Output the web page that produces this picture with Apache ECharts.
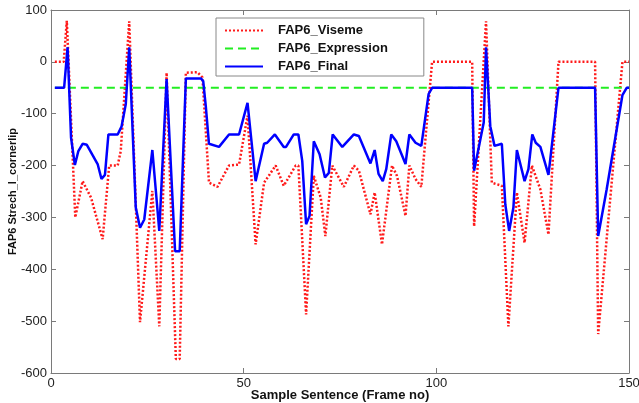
<!DOCTYPE html>
<html><head><meta charset="utf-8">
<script src="https://cdn.jsdelivr.net/npm/echarts@6/dist/echarts.min.js"></script>
<style>html,body{margin:0;padding:0;background:#fff}#c{width:639px;height:403px}</style>
</head><body><div id="c"></div>
<script>
const visemeX = [1,3.3,4.1,6.3,8.2,10.4,11.7,13.4,15.1,17.3,18.1,20.3,23.1,26.3,28.1,30,32.4,33.4,35,38,39.3,41,43.2,46.2,48.8,51,53.1,55.3,58.3,60.4,63.5,64.2,66.2,68.2,70,71.2,73,76,78.6,79.9,82.9,84,85.9,88.5,89.8,92,93,94.6,96.1,98.9,109.3,109.8,112.9,114.4,117,118.7,120.9,122.9,124.8,127,129.1,131.7,141.2,142,148.3,150];
const visemeY = [0,0,79,-300,-230,-262,-297,-342,-200,-200,-172,78,-502,-249,-510,-21,-573,-573,-21,-20,-30,-233,-241,-200,-198,-104,-352,-233,-200,-239,-200,-200,-487,-220,-262,-336,-200,-241,-200,-210,-294,-252,-352,-200,-220,-297,-200,-226,-241,0,0,-317,78,-233,-239,-510,-252,-349,-200,-246,-333,0,0,-525,0,0];
const expressionX = [1,150];
const expressionY = [-50,-50];
const finalX = [1,3.4,4.3,5.2,6.2,7.1,8.2,9.3,12.1,13.1,14,14.9,17.3,18.3,19.4,20.3,22,23.1,24.2,26.3,28.1,30,32.2,33.4,35,38.9,39.5,40.2,41,43.6,46.2,48.8,51,53.1,55.3,56.1,58.1,60.4,61,63,64.2,65.2,66.2,67.1,68.2,69.7,71.1,72.1,73.1,75.6,78.6,79.9,82.9,84,85,86.1,87,88.3,89.6,92,93,94.6,96.1,98,98.9,109.3,109.8,112.3,112.9,114,115.1,117,117.9,118.9,120,120.9,122.9,123.9,124.9,125.8,127,129.1,131,131.7,141.2,142,144.2,148.3,149.4,150];
const finalY = [-50,-50,28,-146,-199,-172,-158,-160,-197,-226,-218,-140,-140,-125,-82,28,-281,-320,-304,-170,-326,-33,-365,-365,-32,-32,-37,-88,-158,-164,-140,-140,-79,-230,-158,-156,-140,-164,-164,-140,-140,-191,-313,-297,-153,-178,-223,-214,-140,-164,-140,-143,-196,-170,-216,-230,-207,-140,-153,-197,-140,-156,-162,-62,-50,-50,-210,-117,28,-124,-162,-158,-275,-326,-281,-170,-230,-207,-140,-156,-164,-218,-95,-50,-50,-336,-246,-64,-50,-50];
const xTicks = [0,50,100,150];
const yTicks = [-600,-500,-400,-300,-200,-100,0,100];

const zip = (xs, ys) => xs.map((x, i) => [x, ys[i]]);
const font = "Liberation Sans, Arial, sans-serif";
const axisCommon = () => ({
  axisLine: {show: true, onZero: false, lineStyle: {color: '#7a7a7a', width: 1}},
  axisTick: {show: true, inside: true, length: 5, lineStyle: {color: '#7a7a7a'}},
  splitLine: {show: false}
});
const chart = echarts.init(document.getElementById('c'));
chart.setOption({
  animation: false,
  backgroundColor: '#fff',
  grid: {left: 51, right: 10, top: 10, bottom: 30, containLabel: false, outerBoundsMode: 'none'},
  legend: {
    orient: 'vertical', left: 216, top: 18,
    padding: [6, 36, 3, 8], itemGap: 5, itemWidth: 38, itemHeight: 14,
    backgroundColor: '#fff', borderColor: '#888', borderWidth: 1,
    itemStyle: {opacity: 0},
    textStyle: {fontFamily: font, fontWeight: 'bold', fontSize: 13, color: '#111', padding: [0,0,0,10]},
    data: ['FAP6_Viseme', 'FAP6_Expression', 'FAP6_Final']
  },
  xAxis: [
    Object.assign({type: 'value', min: xTicks[0], max: xTicks[xTicks.length-1], interval: 50,
      name: 'Sample Sentence (Frame no)', nameLocation: 'middle', nameGap: 16, nameMoveOverlap: false,
      nameTextStyle: {fontFamily: font, fontWeight: 'bold', fontSize: 13, color: '#111'},
      axisLabel: {fontFamily: font, fontSize: 13, color: '#222', margin: 4}}, axisCommon()),
    Object.assign({type: 'value', position: 'top', min: 0, max: 150, interval: 50,
      axisLabel: {show: false}}, axisCommon())
  ],
  yAxis: [
    Object.assign({type: 'value', min: yTicks[0], max: yTicks[yTicks.length-1], interval: 100,
      name: 'FAP6 Strech_l_cornerlip', nameLocation: 'middle', nameGap: 33, nameRotate: 90, nameMoveOverlap: false,
      nameTextStyle: {fontFamily: font, fontWeight: 'bold', fontSize: 11, color: '#111'},
      axisLabel: {fontFamily: font, fontSize: 13, color: '#222', margin: 4}}, axisCommon()),
    Object.assign({type: 'value', position: 'right', min: -600, max: 100, interval: 100,
      axisLabel: {show: false}}, axisCommon())
  ],
  series: [
    {name: 'FAP6_Viseme', type: 'line', data: zip(visemeX, visemeY), symbol: 'none',
      lineStyle: {color: '#ff1a1a', width: 2.5, type: [2, 2]}, itemStyle: {color: '#ff1a1a'}},
    {name: 'FAP6_Expression', type: 'line', data: zip(expressionX, expressionY), symbol: 'none',
      lineStyle: {color: '#22ee22', width: 2, type: [8, 5]}, itemStyle: {color: '#22ee22'}},
    {name: 'FAP6_Final', type: 'line', data: zip(finalX, finalY), symbol: 'none',
      lineStyle: {color: '#0000ff', width: 2.5}, itemStyle: {color: '#0000ff'}}
  ]
});
</script></body></html>
